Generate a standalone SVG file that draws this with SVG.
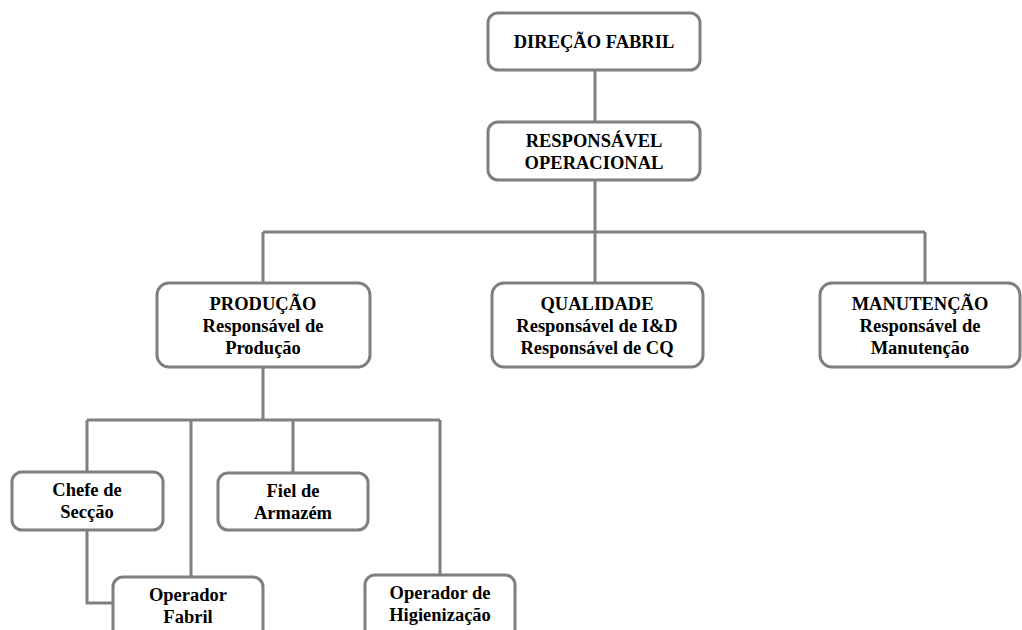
<svg xmlns="http://www.w3.org/2000/svg" width="1022" height="630" viewBox="0 0 1022 630">
<style>
.box{fill:#fff;stroke:#7f7f7f;stroke-width:3}
.ln{fill:none;stroke:#7f7f7f;stroke-width:3}
text{font-family:"Liberation Serif","Times New Roman",serif;font-weight:bold;font-size:18.5px;fill:#000;text-anchor:middle}
</style>
<rect width="1022" height="630" fill="#fff"/>
<g id="connectors">
<path class="ln" d="M595 70V122M595 180V232M263 232H925M263 232V283M595 232V283M925 232V283"/>
<path class="ln" d="M263 367V420M87 420H440M87 420V472M191 420V577M293 420V473M440 420V575"/>
<path class="ln" d="M87 530V603H113"/>
</g>
<g id="direcao">
<rect class="box" x="488" y="13" width="212" height="57" rx="10"/>
<text x="594" y="48">DIREÇÃO FABRIL</text>
</g>
<g id="responsavel">
<rect class="box" x="488" y="122" width="212" height="58" rx="10"/>
<text x="594" y="146.5">RESPONSÁVEL</text>
<text x="594" y="168.5">OPERACIONAL</text>
</g>
<g id="producao">
<rect class="box" x="157" y="283" width="213" height="84" rx="12"/>
<text x="263" y="309.5">PRODUÇÃO</text>
<text x="263" y="331.5">Responsável de</text>
<text x="263" y="353.5">Produção</text>
</g>
<g id="qualidade">
<rect class="box" x="492" y="283" width="211" height="84" rx="12"/>
<text x="597" y="309.5">QUALIDADE</text>
<text x="597" y="331.5">Responsável de I&amp;D</text>
<text x="597" y="353.5">Responsável de CQ</text>
</g>
<g id="manutencao">
<rect class="box" x="820" y="283" width="200" height="84" rx="12"/>
<text x="920" y="309.5">MANUTENÇÃO</text>
<text x="920" y="331.5">Responsável de</text>
<text x="920" y="353.5">Manutenção</text>
</g>
<g id="chefe">
<rect class="box" x="12" y="472" width="151" height="58" rx="10"/>
<text x="87" y="496">Chefe de</text>
<text x="87" y="518">Secção</text>
</g>
<g id="fiel">
<rect class="box" x="218" y="473" width="150" height="57" rx="10"/>
<text x="293" y="497">Fiel de</text>
<text x="293" y="519">Armazém</text>
</g>
<g id="operador-fabril">
<rect class="box" x="113" y="577" width="150" height="70" rx="10"/>
<text x="188" y="601">Operador</text>
<text x="188" y="623">Fabril</text>
</g>
<g id="operador-hig">
<rect class="box" x="365" y="575" width="150" height="70" rx="10"/>
<text x="440" y="599">Operador de</text>
<text x="440" y="621">Higienização</text>
</g>
</svg>
